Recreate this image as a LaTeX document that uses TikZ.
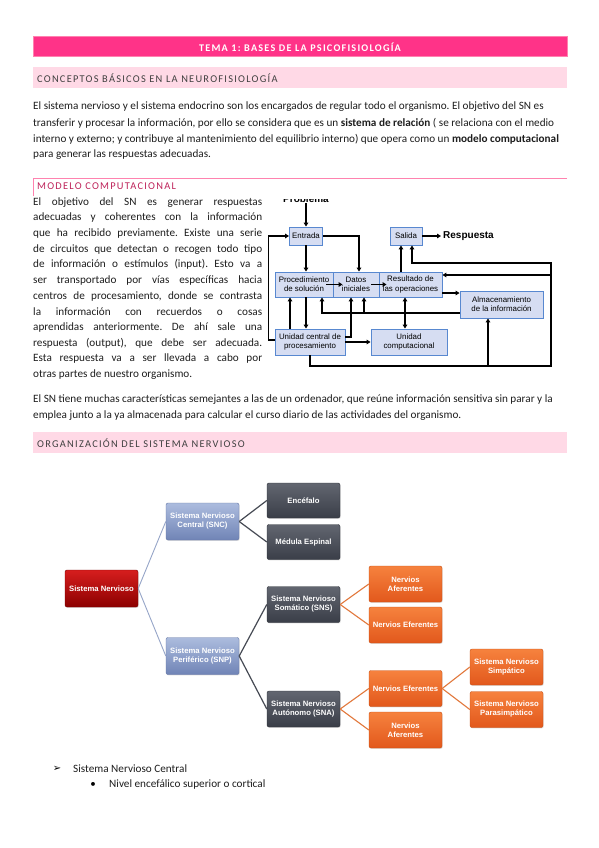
\documentclass[tikz,border=0pt]{standalone}
\usepackage{fontspec}
\setmainfont{Carlito}
\newfontfamily\spacedfont[LetterSpace=12]{Carlito}
\newfontfamily\chartfont{Liberation Sans}
\newfontfamily\symfont{DejaVu Sans}
\usetikzlibrary{
positioning,
arrows.meta,
shadows
}
\definecolor{pinkbar}{RGB}{255,51,136}
\definecolor{pinkedge}{RGB}{255,130,175}
\definecolor{pinklight}{RGB}{255,217,230}
\definecolor{headgray}{RGB}{64,64,64}
\definecolor{modelred}{RGB}{190,35,90}
\definecolor{textgray}{RGB}{30,30,30}
\definecolor{flowfill}{RGB}{214,221,242}
\definecolor{flowedge}{RGB}{88,136,208}
\tikzset{
bar/.style={
inner sep=0pt
},
bodyline/.style={
anchor=west,
inner sep=0pt,
text=textgray,
font=\fontsize{11.2}{13}\selectfont
},
flowbox/.style={
draw=flowedge,
fill=flowfill,
line width=0.9pt,
align=center,
inner sep=1pt,
font=\chartfont\fontsize{7.9}{9.2}\selectfont
},
arrow/.style={
-{Triangle[length=4pt,width=4.6pt]},
line width=1.2pt
},
treebox/.style={
rounded corners=2pt,
minimum width=73pt,
minimum height=36pt,
align=center,
text=white,
line width=0.4pt,
font=\chartfont\bfseries\fontsize{7.7}{9}\selectfont,
drop shadow={opacity=0.25,shadow xshift=0.7pt,shadow yshift=-0.9pt}
},
redbox/.style={
treebox,
draw={rgb,255:red,120;green,0;blue,0},
top color={rgb,255:red,214;green,30;blue,30},
bottom color={rgb,255:red,140;green,0;blue,0}
},
bluebox/.style={
treebox,
draw={rgb,255:red,100;green,118;blue,165},
top color={rgb,255:red,172;green,188;blue,222},
bottom color={rgb,255:red,112;green,132;blue,182}
},
darkbox/.style={
treebox,
draw={rgb,255:red,45;green,48;blue,56},
top color={rgb,255:red,98;green,102;blue,112},
bottom color={rgb,255:red,58;green,62;blue,72}
},
orangebox/.style={
treebox,
draw={rgb,255:red,200;green,80;blue,20},
top color={rgb,255:red,246;green,130;blue,62},
bottom color={rgb,255:red,226;green,88;blue,28}
},
blueline/.style={
draw={rgb,255:red,150;green,165;blue,200},
line width=0.9pt
},
darkline/.style={
draw={rgb,255:red,70;green,74;blue,84},
line width=1.2pt
},
orangeline/.style={
draw={rgb,255:red,226;green,120;blue,60},
line width=1.1pt
}
}
\frenchspacing

\begin{document}
\begin{tikzpicture}[x=1pt,y=-1pt]
\useasboundingbox (0,0) rectangle (599,848);
\fill[white] (0,0) rectangle (599,848);

% title bar
\draw[fill=pinkbar,draw=pinkedge,line width=1pt] (33,37) rectangle (567,57);
\node[bar,text=white,font=\spacedfont\bfseries\fontsize{10.2}{12}\selectfont] (title) at (300,47.5) {TEMA 1: BASES DE LA PSICOFISIOLOGÍA};

% conceptos
\fill[pinklight] (33,67) rectangle (567,88);
\node[bar,anchor=west,text=headgray,font=\spacedfont\fontsize{10.4}{12}\selectfont] (sec1) at (37,78) {CONCEPTOS BÁSICOS EN LA NEUROFISIOLOGÍA};

\node[bodyline] (p1) at (33,107) {El sistema nervioso y el sistema endocrino son los encargados de regular todo el organismo. El objetivo del SN es};
\node[bodyline] (p2) at (33,123) {transferir y procesar la información, por ello se considera que es un \textbf{sistema de relación} ( se relaciona con el medio};
\node[bodyline] (p3) at (33,139) {interno y externo; y contribuye al mantenimiento del equilibrio interno) que opera como un \textbf{modelo computacional}};
\node[bodyline] (p4) at (33,154.5) {para generar las respuestas adecuadas.};

% modelo computacional
\draw[pinkedge,line width=0.8pt] (33,196) -- (33,178) -- (567,178);
\node[bar,anchor=west,text=modelred,font=\spacedfont\fontsize{10.4}{12}\selectfont] (sec2) at (37,186.5) {MODELO COMPUTACIONAL};

\foreach \t [count=\i] in {
{El objetivo del SN es generar respuestas},
{adecuadas y coherentes con la información},
{que ha recibido previamente. Existe una serie},
{de circuitos que detectan o recogen todo tipo},
{de información o estímulos (input). Esto va a},
{ser transportado por vías específicas hacia},
{centros de procesamiento, donde se contrasta},
{la información con recuerdos o cosas},
{aprendidas anteriormente. De ahí sale una},
{respuesta (output), que debe ser adecuada.},
{Esta respuesta va a ser llevada a cabo por}}
{\node[bodyline] (col\i) at (33,{186.5+15.65*\i}) {\makebox[229pt][s]{\t}};}
\node[bodyline] (col12) at (33,374.3) {otras partes de nuestro organismo.};

% flow chart
\begin{scope}
\clip (262,199.5) rectangle (572,372);
\node[font=\chartfont\bfseries\fontsize{10}{11}\selectfont,inner sep=0pt] (prob) at (306,199) {Problema};
\node[flowbox,minimum width=33pt,minimum height=18pt] (entrada) at (306,236) {Entrada};
\node[flowbox,minimum width=32pt,minimum height=18pt] (salida) at (406,236) {Salida};
\node[anchor=west,inner sep=0pt,font=\chartfont\bfseries\fontsize{10}{11}\selectfont] (resp) at (443,236) {Respuesta};
\node[flowbox,minimum width=58pt,minimum height=25pt] (proc) at (304,284.5) {Procedimiento\\de solución};
\node[flowbox,minimum width=46pt,minimum height=25pt] (datos) at (356,284.5) {Datos\\iniciales};
\node[flowbox,minimum width=63pt,minimum height=25pt] (result) at (410.5,284.5) {Resultado de\\las operaciones};
\node[flowbox,minimum width=83pt,minimum height=27pt] (almac) at (501.5,304.5) {Almacenamiento\\de la información};
\node[flowbox,minimum width=70pt,minimum height=26pt] (ucp) at (310,342) {Unidad central de\\procesamiento};
\node[flowbox,minimum width=76pt,minimum height=26pt] (ucomp) at (409,342) {Unidad\\computacional};
\coordinate (rb) at (551,366);
\coordinate (rt) at (551,263);
\coordinate (fbl) at (322,313);

\draw[arrow] (prob.south) -- (entrada.north);
\draw[arrow] (entrada.south) -- (entrada.south |- proc.north);
\draw[arrow] (entrada.east) -| ([xshift=3pt]datos.north);
\draw[arrow] ([xshift=-7pt]proc.east) -- ([xshift=10pt]datos.west);
\draw[arrow] ([xshift=-8pt]datos.east) -- ([xshift=8pt]result.west);
\draw[arrow] ([xshift=-5pt]salida.south |- result.north) -- ([xshift=-5pt]salida.south);
\draw[arrow] (salida.east) -- ([xshift=-2pt]resp.west);
\draw[arrow] ([yshift=-8.5pt]result.east) -- ([yshift=-8.5pt]result.east -| almac.west);
\draw[arrow] ([yshift=-8.5pt]almac.west) -| (fbl |- proc.south);
\draw[arrow] ([xshift=8pt]datos.south |- fbl) -- ([xshift=8pt]datos.south);
\draw[arrow] ([xshift=-20pt]ucp.north) -- ([xshift=-20pt]ucp.north |- proc.south);
\draw[arrow] ([xshift=2pt]proc.south) -- ([xshift=2pt]proc.south |- ucp.north);
\draw[arrow] ([yshift=5pt]ucp.east) -| ([xshift=-5pt]datos.south);
\draw[arrow] (ucp.east) -- (ucomp.west);
\draw[arrow,{Triangle[length=4pt,width=4.6pt]}-{Triangle[length=4pt,width=4.6pt]}] ([xshift=-4pt]ucomp.north |- result.south) -- ([xshift=-4pt]ucomp.north);
\draw[arrow] ([yshift=2pt]ucp.west) -- ++(-6,0) |- (entrada.west);
\draw[arrow] (ucp.south) |- (rb) -- (rt) -| ([xshift=6pt]salida.south);
\draw[arrow] ([yshift=9.5pt]result.east -| rt) -- ([yshift=9.5pt]result.east);
\draw[arrow] ([xshift=-13.5pt]almac.south |- rb) -- ([xshift=-13.5pt]almac.south);
\end{scope}

\node[bodyline] (q1) at (33,400) {El SN tiene muchas características semejantes a las de un ordenador, que reúne información sensitiva sin parar y la};
\node[bodyline] (q2) at (33,416) {emplea junto a la ya almacenada para calcular el curso diario de las actividades del organismo.};

% organizacion
\fill[pinklight] (33,432) rectangle (567,453);
\node[bar,anchor=west,text=headgray,font=\spacedfont\fontsize{10.4}{12}\selectfont] (sec3) at (37,443) {ORGANIZACIÓN DEL SISTEMA NERVIOSO};

% tree
\node[redbox,minimum height=37pt] (sn) at (101.5,588.5) {Sistema Nervioso};
\node[bluebox,minimum height=37pt] (snc) at (202.5,521.5) {Sistema Nervioso\\Central (SNC)};
\node[bluebox,minimum height=37pt] (snp) at (202.5,656) {Sistema Nervioso\\Periférico (SNP)};
\node[darkbox,minimum height=35pt] (enc) at (303.5,500.5) {Encéfalo};
\node[darkbox,minimum height=35pt] (med) at (303.5,542) {Médula Espinal};
\node[darkbox] (sns) at (303.5,604.5) {Sistema Nervioso\\Somático (SNS)};
\node[darkbox] (sna) at (303.5,709) {Sistema Nervioso\\Autónomo (SNA)};
\node[orangebox] (naf1) at (405.5,584) {Nervios\\Aferentes};
\node[orangebox] (nef1) at (405.5,625) {Nervios Eferentes};
\node[orangebox] (nef2) at (405.5,688.5) {Nervios Eferentes};
\node[orangebox] (naf2) at (405.5,730) {Nervios\\Aferentes};
\node[orangebox] (simp) at (506.5,667) {Sistema Nervioso\\Simpático};
\node[orangebox] (para) at (506.5,709.5) {Sistema Nervioso\\Parasimpático};

\draw[blueline] (sn.east) -- (snc.west);
\draw[blueline] (sn.east) -- (snp.west);
\draw[darkline] (snc.east) -- (enc.west);
\draw[darkline] (snc.east) -- (med.west);
\draw[darkline] (snp.east) -- (sns.west);
\draw[darkline] (snp.east) -- (sna.west);
\draw[orangeline] (sns.east) -- (naf1.west);
\draw[orangeline] (sns.east) -- (nef1.west);
\draw[orangeline] (sna.east) -- (nef2.west);
\draw[orangeline] (sna.east) -- (naf2.west);
\draw[orangeline] (nef2.east) -- (simp.west);
\draw[orangeline] (nef2.east) -- (para.west);

% list
\node[inner sep=0pt,font=\symfont\fontsize{10}{11}\selectfont] (b1) at (57,769) {➢};
\node[bodyline] (li1) at (73,769) {Sistema Nervioso Central};
\node[inner sep=0pt,font=\fontsize{11}{12}\selectfont] (b2) at (93,785) {•};
\node[bodyline] (li2) at (109,785) {Nivel encefálico superior o cortical};
\end{tikzpicture}
\end{document}
